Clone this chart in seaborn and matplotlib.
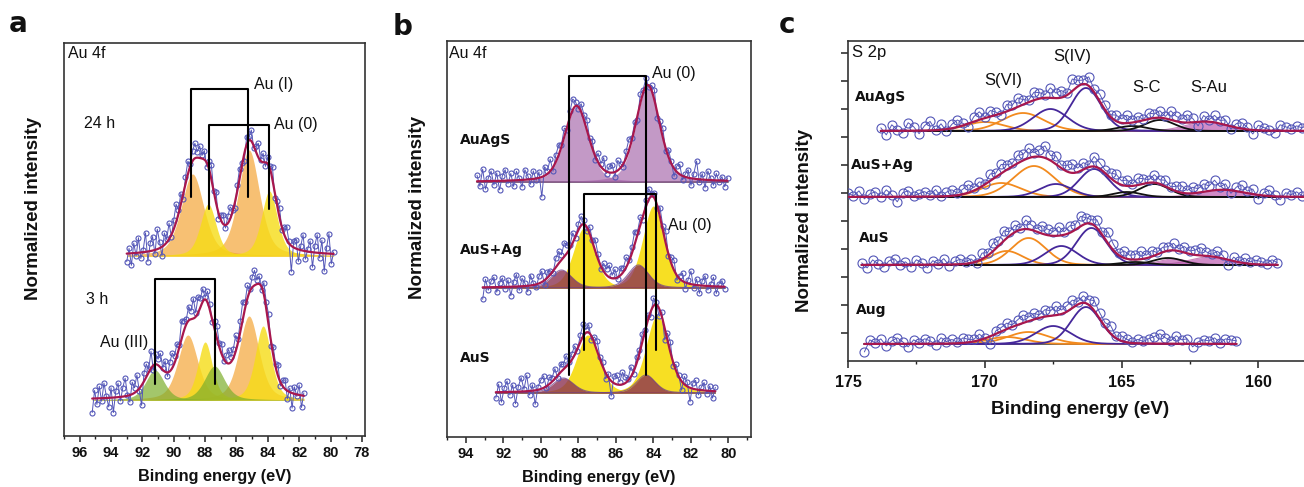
import numpy as np
import matplotlib
matplotlib.use("Agg")
import matplotlib.pyplot as plt
from matplotlib.ticker import MultipleLocator, FixedLocator
import seaborn as sns

sns.set_theme(style="ticks")
plt.rcParams['font.family'] = ['Liberation Sans', 'DejaVu Sans']

# ======================= DATA =======================
STEP_AB = 0.15   # eV between measured points, panels a and b
STEP_C = 0.2     # eV between measured points, panel c

# ---- Panel a : Au 4f, 24 h ----
a24_start = 93.0
a24_resid = [-8, 5, -12, 10, -3, 15, -6, 2, 19, -10, 8, 14, -4, 20, 6, -9, 12, 3, 16, -2,
             9, 18, 4, 11, -5, 7, 13, 2, 10, 15, 6, 12, 3, 9, -4, 8, 14, 0, 11, -6,
             5, 9, -3, 7, 12, 2, -5, 6, 10, 3, -7, 8, 4, 11, -2, 6, 14, 1, 9, -4,
             7, 3, 12, -6, 5, 10, -3, 8, 13, 2, -26, 6, 9, -12, 4, 16, -8, 3, 11, -15,
             7, 18, -5, 13, -18, 6, 20, -10, 2]
a24_centers = [88.8, 87.8, 85.2, 83.9]
a24_heights = [82, 52, 106, 65]
a24_fwhm = [1.7, 1.2, 1.6, 1.2]
a24_kind = ["Au(I)", "Au(0)", "Au(I)", "Au(0)"]

# ---- Panel a : Au 4f, 3 h ----
a3_start = 95.2
a3_resid = [-14, 8, -6, 12, -3, 15, 2, -9, 10, -15, 6, 14, -4, 9, 18, 1, -7, 12, 5, 16,
            -2, -20, 8, 13, 3, 17, -5, 10, 6, 14, 2, 11, -4, 9, 15, 7, 12, 3, 18, 10,
            5, 14, 8, 20, 4, 16, 9, 13, 2, 11, 6, -3, 8, 12, 4, 10, -2, 7, 14, 5,
            9, 16, 3, 11, 18, 6, 13, 2, 10, 15, 4, 8, -3, 12, 6, 10, -5, 8, 3, 11,
            -4, 6, 9, -8, 4, -15, 7, -2, 10, -12, 3]
a3_centers = [91.2, 89.1, 88.0, 87.4, 85.2, 84.3]
a3_heights = [30, 65, 58, 34, 84, 74]
a3_fwhm = [1.4, 1.5, 1.1, 1.5, 1.5, 1.2]
a3_kind = ["Au(III)", "Au(I)", "Au(0)", "Au(III)", "Au(I)", "Au(0)"]

# ---- Panel b : Au 4f ----
bAuAgS_start = 93.4
bAuAgS_resid = [6, -5, 12, -8, 3, 10, -4, 8, -9, 5, 11, -3, 7, -6, 9, 2, -7, 10, 4, -5,
                8, -2, 6, -20, 9, 3, 12, -4, 7, 10, 2, 9, -3, 6, 11, 4, -2, 8, 5, 10,
                1, 7, -4, 9, 3, 12, -2, 6, 8, -5, 10, 4, -3, 7, 11, 2, 6, -4, 9, 3,
                8, -2, 5, 10, -6, 4, 9, -3, 7, 2, -8, 6, 10, -4, 3, 8, -7, 5, 18, -3,
                6, -8, 9, 2, -5, 7, -2, 4, -6, 3]
bAuAgS_centers = [88.1, 84.3]
bAuAgS_heights = [75, 96]
bAuAgS_fwhm = [1.5, 1.5]
bAuAgS_kind = ["AuAgS", "AuAgS"]

bAuSAg_start = 93.1
bAuSAg_resid = [-12, 8, -3, 6, 10, -5, 4, 9, -2, 7, -9, 5, 12, -4, 8, 3, -6, 10, 2, -3,
                7, 11, -5, 6, 4, -2, 9, 12, 5, 14, 8, 3, 10, -2, 6, 9, 4, -4, 7, 2,
                11, 5, -3, 8, 6, 12, 3, 9, -2, 7, 4, 10, 1, 6, 13, 3, 8, -4, 7, 11,
                2, 5, -3, 9, 4, 12, -2, 6, 10, -5, 3, 8, -6, 4, 13, -3, 6, -8, 5, 10,
                -4, 2, 9, -7, 3, 6, -2]
bAuSAg_centers = [87.7, 84.0, 88.9, 84.8]
bAuSAg_heights = [60, 82, 18, 23]
bAuSAg_fwhm = [1.35, 1.35, 1.3, 1.3]
bAuSAg_kind = ["Au(0)b", "Au(0)b", "AuS", "AuS"]

bAuS_start = 92.4
bAuS_resid = [-6, 8, -10, 4, 11, -3, 7, -12, 5, 14, 2, 16, -4, 6, -14, 3, 9, 12, -2, 7,
              4, 10, -3, 8, 5, 11, 2, 6, 9, -2, 7, 12, 3, 8, -4, 6, 10, 2, 5, -6,
              4, -15, 7, 9, 3, 12, 6, 2, 10, -3, 7, 4, 9, 1, 6, -5, 8, 3, -8, 5,
              -12, 7, 10, -4, 6, 2, -9, 8, 4, -14, 6, 9, -5, 3, 8, -3, 5, -7, 4]
bAuS_centers = [87.5, 83.8, 88.8, 84.4]
bAuS_heights = [58, 78, 15, 18]
bAuS_fwhm = [1.4, 1.4, 1.3, 1.2]
bAuS_kind = ["Au(0)b", "Au(0)b", "AuS", "AuS"]

# ---- Panel c : S 2p ----
cAuAgS_start = 173.8
cAuAgS_resid = [3, -4, 6, 1, -2, 8, 4, -3, 5, 9, 0, 6, -2, 4, 7, 2, -3, 5, 8, 1,
                6, 3, -2, 7, 4, 9, 5, 2, 8, 6, 3, 10, 5, 7, 2, 12, 6, 4, 9, 3,
                7, 5, 2, 6, 4, 8, 3, 5, 1, 6, 4, 7, 2, 9, 5, 3, 8, 4, -4, 6,
                2, 7, 3, 5, -3, 4, 6, 2, -4, 5, 3, 1, -2, 6, 4, 2, 5, 3, 6]
cAuAgS_centers = [170.0, 168.6, 167.6, 166.3, 164.6, 163.6, 161.9]
cAuAgS_heights = [9, 18, 22, 43, 5, 11, 9]
cAuAgS_fwhm = [1.7, 1.8, 1.5, 1.3, 1.3, 1.3, 1.8]
cAuAgS_kind = ["S(VI)", "S(VI)", "S(IV)", "S(IV)", "S-C", "S-C", "S-Au"]

cAuSAg_start = 175.0
cAuSAg_resid = [4, 1, 6, -2, 3, 5, 0, 7, 2, -5, 4, 6, 1, 3, 5, 2, 7, 0, 4, 6,
                2, 5, 8, 3, 6, 1, 7, 4, 9, 5, 3, 8, 6, 10, 4, 7, 12, 5, 8, 3,
                6, 9, 4, 7, 2, 10, 6, 3, 5, 8, 4, 6, 2, 7, 5, 3, 8, 4, 6, 2,
                5, 7, 3, 6, 4, 8, 5, 10, 3, 6, -3, 4, 7, 2, 5, -4, 3, 6, 1, -3,
                4, 2, 5, 1, 3]
cAuSAg_centers = [169.4, 168.2, 167.4, 166.0, 164.8, 163.8, 161.3]
cAuSAg_heights = [14, 31, 13, 28, 5, 13, 7]
cAuSAg_fwhm = [1.7, 1.8, 1.4, 1.3, 1.2, 1.3, 1.9]
cAuSAg_kind = ["S(VI)", "S(VI)", "S(IV)", "S(IV)", "S-C", "S-C", "S-Au"]

cAuS_start = 174.5
cAuS_resid = [2, -3, 5, 1, -2, 4, 6, 0, 3, -2, 5, 2, -3, 4, 1, 6, -1, 3, 5, 2,
              4, -2, 6, 3, 8, 5, 10, 4, 7, 2, 9, 5, 3, 8, 6, 4, 9, 3, 7, 5,
              10, 6, 4, 8, 3, 11, 6, 2, 7, 4, 5, 8, 3, 6, 2, 5, 4, 7, 2, 6,
              3, 5, 8, 4, 2, 6, 3, -5, 4, 1, 5, 2, 4, 3, 1, 5, 2]
cAuS_centers = [169.2, 168.4, 167.2, 166.1, 164.5, 163.3, 163.1, 161.8]
cAuS_heights = [14, 27, 19, 37, 3, 7, 6, 8]
cAuS_fwhm = [1.4, 1.5, 1.4, 1.3, 1.3, 1.3, 1.3, 1.7]
cAuS_kind = ["S(VI)", "S(VI)", "S(IV)", "S(IV)", "S-C", "S-C", "S-Au", "S-Au"]

cAug_start = 174.4
cAug_resid = [-8, 4, 1, 5, -2, 3, 6, 2, -3, 4, 1, 5, 3, -1, 6, 2, 4, 1, 5, 3,
              2, 6, 0, -8, 3, 4, 6, 2, 5, 8, 4, 6, 3, 7, 5, 9, 4, 6, 8, 3,
              7, 5, 10, 6, 4, 8, 2, 5, 3, 1, 4, 2, 5, 7, 10, 6, 3, 8, 4, 5,
              -3, 2, 4, 3, 6, 1, 5, 4, 3]
cAug_centers = [169.2, 168.4, 167.5, 166.3]
cAug_heights = [7, 12, 18, 37]
cAug_fwhm = [1.7, 1.8, 1.5, 1.3]
cAug_kind = ["S(VI)", "S(VI)", "S(IV)", "S(IV)"]

# tick labels
a_ticks = [96, 94, 92, 90, 88, 86, 84, 82, 80, 78]
b_ticks = [94, 92, 90, 88, 86, 84, 82, 80]
c_ticks = [175, 170, 165, 160]

# ======================= STYLES =======================
RED = "#A8174D"
DATA_COL = "#5457B8"
styles = {
    "Au(I)":   dict(kind="fill", color="#F39A1E", alpha=0.62, z=1),
    "Au(0)":   dict(kind="fill", color="#F6DC16", alpha=0.80, z=2),
    "Au(III)": dict(kind="fill", color="#7DAE2C", alpha=0.70, z=3),
    "AuAgS":   dict(kind="fill", color="#A463A8", alpha=0.65, z=1),
    "Au(0)b":  dict(kind="fill", color="#F7DE17", alpha=0.95, z=2),
    "AuS":     dict(kind="fill", color="#8C3352", alpha=0.80, z=3, edge="#6B3A8A"),
    "S(VI)":   dict(kind="line", color="#F28A1E", z=1),
    "S(IV)":   dict(kind="line", color="#45279A", z=2),
    "S-C":     dict(kind="line", color="#111111", z=3),
    "S-Au":    dict(kind="fill", color="#C266B6", alpha=0.75, z=4, edge="#B0509F"),
}


def profile(x, c, h, w, eta):
    d = (x - c) / (w / 2.0)
    return h * (eta / (1.0 + d ** 2) + (1 - eta) * np.exp(-np.log(2) * d ** 2))


def draw_spectrum(ax, start, step, resid, base, centers, heights, fwhms, kinds,
                  eta, ms, baseline=False, lw_comp=1.3):
    resid = np.asarray(resid, dtype=float)
    xd = start - step * np.arange(len(resid))
    xf = np.linspace(xd[0], xd[-1], 800)
    comps = [profile(xf, c, h, w, eta) for c, h, w in zip(centers, heights, fwhms)]
    env_f = np.sum(comps, axis=0)
    env_d = np.sum([profile(xd, c, h, w, eta) for c, h, w in zip(centers, heights, fwhms)], axis=0)
    if baseline:
        ax.plot([xd[0], xd[-1]], [base, base], color="#555555", lw=1.3, zorder=1)
    order = sorted(range(len(kinds)), key=lambda i: styles[kinds[i]]["z"])
    for i in order:
        st = styles[kinds[i]]
        if st["kind"] == "fill":
            ax.fill_between(xf, base, base + comps[i], color=st["color"],
                            alpha=st["alpha"], lw=0, zorder=2)
            if "edge" in st:
                ax.plot(xf, base + comps[i], color=st["edge"], lw=0.8, alpha=0.7, zorder=2)
        else:
            ax.plot(xf, base + comps[i], color=st["color"], lw=lw_comp, zorder=3)
    yd = base + env_d + resid
    sns.lineplot(x=xd, y=yd, ax=ax, color=DATA_COL, lw=0.7, marker="o",
                 markersize=ms, markerfacecolor="none", markeredgecolor=DATA_COL,
                 markeredgewidth=0.8, estimator=None, zorder=4)
    sns.lineplot(x=xf, y=base + env_f, ax=ax, color=RED, lw=1.6, estimator=None, zorder=5)


def style_axes(ax, xlim, ticks, minor, label_size, ylim):
    ax.set_xlim(*xlim)
    ax.set_ylim(*ylim)
    ax.set_xticks(ticks)
    ax.set_xticklabels([str(t) for t in ticks], fontweight="bold", fontsize=label_size,
                       color="#111111")
    ax.xaxis.set_minor_locator(MultipleLocator(minor))
    ax.tick_params(axis="x", which="major", direction="out", length=4.5, width=1.1,
                   color="#222222", pad=3)
    ax.tick_params(axis="x", which="minor", direction="out", length=2.5, width=1.0,
                   color="#222222")
    for s in ax.spines.values():
        s.set_visible(True)
        s.set_linewidth(1.2)
        s.set_color("#333333")
    ax.set_facecolor("white")


fig = plt.figure(figsize=(13.04, 4.87), dpi=100)
W, H = 1304.0, 487.0


def px_axes(x0, y0, x1, y1):
    return fig.add_axes([x0 / W, 1 - y1 / H, (x1 - x0) / W, (y1 - y0) / H])


lab = dict(fontweight="bold", color="#111111")

# ---------------- panel a ----------------
ax_a = px_axes(64, 43, 365, 436)
draw_spectrum(ax_a, a24_start, STEP_AB, a24_resid, 180, a24_centers, a24_heights,
              a24_fwhm, a24_kind, 0.45, 3.6)
draw_spectrum(ax_a, a3_start, STEP_AB, a3_resid, 36, a3_centers, a3_heights,
              a3_fwhm, a3_kind, 0.45, 3.6)
style_axes(ax_a, (97, 77.8), a_ticks, 1, 10.5, (0, 393))
ax_a.set_yticks([])
br = dict(color="black", lw=1.5, zorder=6)
ax_a.plot([88.93, 88.93, 85.24, 85.24], [239, 347, 347, 239], **br)
ax_a.plot([87.78, 87.78, 83.9, 83.9], [227, 311, 311, 227], **br)
ax_a.plot([91.22, 91.22, 87.4, 87.4], [52, 157, 157, 52], **br)
tk = dict(fontsize=11.5, va="center", ha="left", color="#111111")
ax_a.text(96.76, 382, "Au 4f", **tk)
ax_a.text(95.75, 313, "24 h", **tk)
ax_a.text(84.9, 351, "Au (I)", **tk)
ax_a.text(83.6, 312, "Au (0)", **tk)
ax_a.text(95.6, 136, "3 h", **tk)
ax_a.text(94.7, 94, "Au (III)", **tk)
ax_a.set_xlabel("Binding energy (eV)", fontsize=11.7, **lab)
ax_a.xaxis.set_label_coords(0.5, -0.085)
ax_a.set_ylabel("Normalized intensity", fontsize=13.5, **lab)
ax_a.yaxis.set_label_coords(-0.073, 0.58)

# ---------------- panel b ----------------
ax_b = px_axes(447, 41, 751, 437)
draw_spectrum(ax_b, bAuAgS_start, STEP_AB, bAuAgS_resid, 255, bAuAgS_centers,
              bAuAgS_heights, bAuAgS_fwhm, bAuAgS_kind, 0.35, 3.6, baseline=True)
draw_spectrum(ax_b, bAuSAg_start, STEP_AB, bAuSAg_resid, 149, bAuSAg_centers,
              bAuSAg_heights, bAuSAg_fwhm, bAuSAg_kind, 0.35, 3.6, baseline=True)
draw_spectrum(ax_b, bAuS_start, STEP_AB, bAuS_resid, 44, bAuS_centers,
              bAuS_heights, bAuS_fwhm, bAuS_kind, 0.35, 3.6, baseline=True)
style_axes(ax_b, (95, 78.8), b_ticks, 1, 10.5, (0, 396))
ax_b.set_yticks([])
ax_b.plot([88.5, 88.5, 84.38, 84.38], [62, 361, 361, 62], **br)
ax_b.plot([87.69, 87.69, 83.85, 83.85], [87, 243, 243, 87], **br)
ax_b.text(94.9, 384, "Au 4f", **tk)
ax_b.text(84.05, 364, "Au (0)", **tk)
ax_b.text(83.2, 212, "Au (0)", **tk)
sk = dict(fontsize=10, va="center", ha="left", fontweight="bold",
          family=["DejaVu Sans"], color="#111111")
ax_b.text(94.3, 297, "AuAgS", **sk)
ax_b.text(94.3, 187, "AuS+Ag", **sk)
ax_b.text(94.3, 79, "AuS", **sk)
ax_b.set_xlabel("Binding energy (eV)", fontsize=11.7, **lab)
ax_b.xaxis.set_label_coords(0.5, -0.083)
ax_b.set_ylabel("Normalized intensity", fontsize=13.5, **lab)
ax_b.yaxis.set_label_coords(-0.069, 0.58)

# ---------------- panel c ----------------
ax_c = px_axes(848, 41, 1313, 361)
draw_spectrum(ax_c, cAuAgS_start, STEP_C, cAuAgS_resid, 230, cAuAgS_centers,
              cAuAgS_heights, cAuAgS_fwhm, cAuAgS_kind, 0.1, 6.5, baseline=True)
draw_spectrum(ax_c, cAuSAg_start, STEP_C, cAuSAg_resid, 164, cAuSAg_centers,
              cAuSAg_heights, cAuSAg_fwhm, cAuSAg_kind, 0.1, 6.5, baseline=True)
draw_spectrum(ax_c, cAuS_start, STEP_C, cAuS_resid, 96, cAuS_centers,
              cAuS_heights, cAuS_fwhm, cAuS_kind, 0.1, 6.5, baseline=True)
draw_spectrum(ax_c, cAug_start, STEP_C, cAug_resid, 17, cAug_centers,
              cAug_heights, cAug_fwhm, cAug_kind, 0.1, 6.5, baseline=True)
style_axes(ax_c, (175, 158), c_ticks, 2.5, 11.5, (0, 320))
ax_c.yaxis.set_major_locator(FixedLocator([28 * k for k in range(1, 12)]))
ax_c.set_yticklabels([])
ax_c.tick_params(axis="y", which="major", direction="out", length=5, width=1.1,
                 color="#222222", left=True)
ax_c.tick_params(axis="x", which="major", length=5, pad=5)
ck = dict(fontsize=12, va="center", ha="left", color="#111111")
ax_c.text(174.85, 308, "S 2p", **ck)
ax_c.text(170.0, 281, "S(VI)", **ck)
ax_c.text(167.5, 304, "S(IV)", **ck)
ax_c.text(164.6, 274, "S-C", **ck)
ax_c.text(162.5, 274, "S-Au", **ck)
ax_c.text(174.74, 264, "AuAgS", **sk)
ax_c.text(174.9, 196, "AuS+Ag", **sk)
ax_c.text(174.6, 123, "AuS", **sk)
ax_c.text(174.7, 51, "Aug", **sk)
ax_c.set_xlabel("Binding energy (eV)", fontsize=13.6, **lab)
ax_c.xaxis.set_label_coords(0.5, -0.125)
ax_c.set_ylabel("Normalized intensity", fontsize=13.5, **lab)
ax_c.yaxis.set_label_coords(-0.075, 0.44)

# panel letters
for x, y, s in [(18, 24, "a"), (403, 27, "b"), (787, 25, "c")]:
    fig.text(x / W, 1 - y / H, s, fontsize=20, fontweight="bold",
             family=["DejaVu Sans"], ha="center", va="center", color="#111111")

fig.savefig("out.png", dpi=100, facecolor="white")
